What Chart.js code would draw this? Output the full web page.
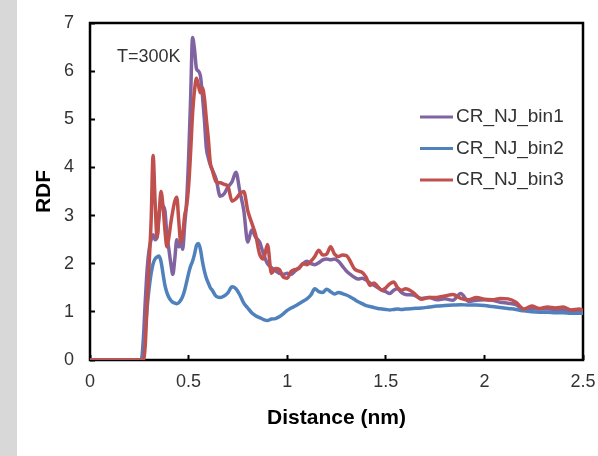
<!DOCTYPE html>
<html>
<head>
<meta charset="utf-8">
<script src="https://cdn.jsdelivr.net/npm/chart.js@4.4.0/dist/chart.umd.min.js"></script>
<style>
  html, body { margin: 0; padding: 0; }
  body { background: linear-gradient(to right, #d8d8d8 0, #d8d8d8 17px, #ffffff 17px); }
  #wrap { width: 598px; height: 456px; position: relative; }
</style>
</head>
<body>
<div id="wrap"><canvas id="rdf"></canvas></div>
<script>
// RDF curves (distance in nm)
const distance = [
  0, 0.26, 0.27, 0.28, 0.29, 0.3, 0.31, 0.32, 0.33, 0.34, 0.35, 0.36, 0.37, 0.38, 0.39,
  0.4, 0.41, 0.42, 0.43, 0.44, 0.45, 0.46, 0.47, 0.48, 0.49, 0.5, 0.51, 0.52, 0.53, 0.54,
  0.55, 0.56, 0.57, 0.58, 0.59, 0.6, 0.61, 0.62,
  0.64, 0.66, 0.68, 0.7, 0.72, 0.74, 0.76, 0.78, 0.8, 0.82, 0.84, 0.86, 0.88, 0.9, 0.92,
  0.94, 0.96, 0.98, 1.0, 1.02, 1.04, 1.06, 1.08, 1.1, 1.12, 1.14, 1.16, 1.18, 1.2, 1.22,
  1.24, 1.26, 1.28, 1.3, 1.32, 1.34, 1.36, 1.38, 1.4, 1.42, 1.44, 1.46, 1.48, 1.5, 1.52,
  1.54, 1.56, 1.58, 1.6,
  1.64, 1.68, 1.72, 1.76, 1.8, 1.84, 1.88, 1.92, 1.96, 2.0, 2.04, 2.08, 2.12, 2.16, 2.2,
  2.24, 2.28, 2.32, 2.36, 2.4, 2.44, 2.48, 2.5
];

const bin1 = [
  0, 0, 0.4, 1.2, 1.9, 2.3, 2.5, 2.6, 2.5, 2.55, 3.0, 3.25, 3.2, 3.1, 2.6,
  2.3, 2.0, 1.78, 2.1, 2.5, 2.35, 2.45, 2.3, 2.8, 3.3, 4.2, 5.4, 6.7, 6.45, 6.05,
  6.0, 5.9, 5.5, 5.0, 4.4, 4.2, 4.05, 3.95,
  3.75, 3.4, 3.45, 3.6, 3.7, 3.9, 3.5, 3.1, 2.45, 2.7, 2.55, 2.45, 2.2, 2.0, 1.92,
  1.85, 1.8, 1.78, 1.8, 1.78, 1.85, 1.92, 2.0, 2.05, 2.0, 1.98, 2.02, 2.08, 2.1, 2.08,
  2.1, 2.05, 1.95, 1.85, 1.78, 1.72, 1.68, 1.7, 1.66, 1.6, 1.55, 1.5, 1.45, 1.42, 1.38,
  1.45, 1.48, 1.4, 1.36,
  1.35, 1.28, 1.3, 1.25, 1.27, 1.24, 1.38, 1.22, 1.24, 1.25, 1.24, 1.2, 1.18, 1.15, 1.05,
  1.07, 1.06, 1.06, 1.05, 1.04, 1.03, 1.02, 1.01
];

const bin2 = [
  0, 0, 0.15, 0.6, 1.1, 1.5, 1.8, 2.0, 2.1, 2.14, 2.16, 2.05, 1.8, 1.55, 1.4,
  1.3, 1.24, 1.2, 1.18, 1.17, 1.19, 1.24, 1.32, 1.45, 1.62, 1.8, 1.95, 2.05, 2.2, 2.38,
  2.42, 2.3, 2.05, 1.85, 1.7, 1.6, 1.5, 1.45,
  1.32, 1.3, 1.33, 1.4, 1.52, 1.48, 1.35, 1.18, 1.08, 0.98, 0.92, 0.88, 0.84, 0.82, 0.85,
  0.86, 0.9, 0.96, 1.03, 1.08, 1.12, 1.17, 1.22, 1.27, 1.35, 1.48, 1.42, 1.4, 1.47, 1.42,
  1.37, 1.4, 1.38, 1.35, 1.31, 1.26, 1.21, 1.17, 1.13, 1.11, 1.09, 1.07, 1.06, 1.05, 1.04,
  1.05, 1.06, 1.05, 1.06,
  1.07, 1.08, 1.1, 1.12, 1.13, 1.14, 1.15, 1.14, 1.14, 1.13, 1.11, 1.09, 1.07, 1.05, 1.02,
  1.0, 0.99, 0.99, 0.98, 0.98, 0.97, 0.97, 0.97
];

const bin3 = [
  0, 0, 0, 0.3, 1.2, 2.0, 2.9, 4.25, 3.3, 2.55, 3.0, 3.5, 3.2, 2.7, 2.35,
  2.55, 2.85, 3.1, 3.3, 3.38, 2.9, 2.45, 2.6, 3.0, 3.2, 3.6, 4.3, 5.1, 5.6, 5.85,
  5.7, 5.55, 5.65, 5.45, 5.0, 4.6, 4.1, 3.95,
  3.7, 3.68, 3.65, 3.6, 3.3, 3.35, 3.45, 3.5, 3.1, 2.85, 2.6, 2.2, 2.1, 2.4, 1.8,
  1.9, 1.88, 1.72, 1.7, 1.84, 1.88, 1.9, 2.0, 1.98, 2.05, 2.15, 2.28, 2.18, 2.2, 2.35,
  2.2, 2.15, 2.18, 2.17, 2.05, 1.9, 1.85, 1.82, 1.72, 1.55, 1.6, 1.52, 1.45, 1.5, 1.58,
  1.62, 1.5, 1.45, 1.48,
  1.4, 1.26, 1.3, 1.3, 1.33, 1.36, 1.28, 1.25, 1.3, 1.26, 1.25, 1.28, 1.27, 1.2, 1.06,
  1.12, 1.07, 1.1, 1.08, 1.1, 1.04, 1.06, 1.03
];

const seriesNames = ['CR_NJ_bin1', 'CR_NJ_bin2', 'CR_NJ_bin3'];
const seriesColors = ['#8064a2', '#4f81bd', '#c0504d'];
const annotationText = 'T=300K';

const FONT = '"Liberation Sans", Arial, sans-serif';
const TEXT = '#333333';

function toPoints(values) {
  return distance.map((d, i) => ({ x: d, y: values[i] }));
}

// black box around the plot area
const framePlugin = {
  id: 'frame',
  beforeDatasetsDraw(chart) {
    const { ctx, chartArea: a } = chart;
    ctx.save();
    ctx.strokeStyle = '#000000';
    ctx.lineWidth = 2.5;
    ctx.strokeRect(a.left, a.top, a.right - a.left, a.bottom - a.top);
    ctx.restore();
  }
};

// legend and temperature label inside the plot
const insideLegend = {
  id: 'insideLegend',
  afterDatasetsDraw(chart) {
    const { ctx, chartArea: a } = chart;
    ctx.save();
    ctx.font = '19px ' + FONT;
    ctx.textBaseline = 'middle';
    ctx.textAlign = 'left';
    chart.data.datasets.forEach((ds, i) => {
      const y = a.top + 94 + i * 31.5;
      ctx.strokeStyle = ds.borderColor;
      ctx.lineWidth = 3;
      ctx.beginPath();
      ctx.moveTo(a.right - 163, y);
      ctx.lineTo(a.right - 130, y);
      ctx.stroke();
      ctx.fillStyle = TEXT;
      ctx.fillText(ds.label, a.right - 127, y);
    });
    ctx.font = '18px ' + FONT;
    ctx.fillText(annotationText, a.left + 27, a.top + 34);
    ctx.restore();
  }
};

new Chart(document.getElementById('rdf'), {
  type: 'line',
  data: {
    datasets: [
      { label: seriesNames[0], data: toPoints(bin1), borderColor: seriesColors[0], order: 2 },
      { label: seriesNames[1], data: toPoints(bin2), borderColor: seriesColors[1], order: 1 },
      { label: seriesNames[2], data: toPoints(bin3), borderColor: seriesColors[2], order: 0 }
    ]
  },
  options: {
    responsive: true,
    maintainAspectRatio: false,
    animation: false,
    layout: { padding: { left: 18, right: 15, top: 23, bottom: 16 } },
    elements: {
      line: { borderWidth: 3.5, tension: 0, cubicInterpolationMode: 'monotone', fill: false },
      point: { radius: 0 }
    },
    plugins: {
      legend: { display: false },
      tooltip: { enabled: false }
    },
    scales: {
      x: {
        type: 'linear',
        min: 0,
        max: 2.5,
        border: { display: false },
        grid: { drawOnChartArea: false, tickLength: -5, tickWidth: 2, tickColor: '#000000' },
        ticks: {
          stepSize: 0.5,
          padding: 16,
          color: TEXT,
          font: { family: FONT, size: 18 },
          callback: (value) => String(Math.round(value * 10) / 10)
        },
        title: {
          display: true,
          text: 'Distance (nm)',
          color: '#000000',
          font: { family: FONT, size: 21, weight: 'bold' },
          padding: { top: 0, bottom: 9 }
        },
        afterFit(scale) {
          scale.height = 80;
          scale.paddingLeft = 0;
          scale.paddingRight = 0;
        }
      },
      y: {
        min: 0,
        max: 7,
        border: { display: false },
        grid: { drawOnChartArea: false, tickLength: -5, tickWidth: 2, tickColor: '#000000' },
        ticks: { stepSize: 1, padding: 21, color: TEXT, font: { family: FONT, size: 18 } },
        title: {
          display: true,
          text: 'RDF',
          color: '#000000',
          font: { family: FONT, size: 21, weight: 'bold' },
          padding: { top: 14, bottom: 0 }
        },
        afterFit(scale) {
          scale.width = 72;
          scale.paddingTop = 0;
          scale.paddingBottom = 0;
        }
      }
    }
  },
  plugins: [framePlugin, insideLegend]
});
</script>
</body>
</html>
